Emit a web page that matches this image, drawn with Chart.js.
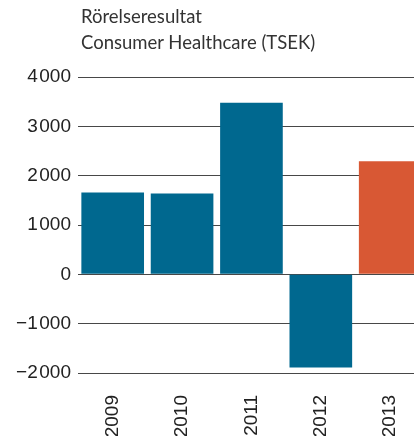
<!DOCTYPE html>
<html>
<head>
<meta charset="utf-8">
<script src="https://cdn.jsdelivr.net/npm/chart.js@4"></script>
<style>
  html, body { margin: 0; padding: 0; background: #fff; overflow: hidden; }
  #wrap { position: relative; width: 414px; height: 436px; overflow: hidden; }
  #titulo {
    position: absolute; left: 81px; top: 3px;
    font-family: Lato, "Open Sans", sans-serif; font-size: 18.5px; line-height: 26px;
    color: #333;
  }
  canvas { position: absolute; left: 0; top: 0; }
</style>
</head>
<body>
<div id="wrap">
  <canvas id="grafico" width="427" height="436"></canvas>
  <div id="titulo">Rörelseresultat<br>Consumer Healthcare (TSEK)</div>
</div>
<script>
// Datos del gráfico
const anios = ['2009', '2010', '2011', '2012', '2013'];
const resultado = [1660, 1640, 3480, -1890, 2290];
const ticksY = [-2000, -1000, 0, 1000, 2000, 3000, 4000];

// Colores
const azul = '#00688F';
const naranja = '#D85834';
const colores = anios.map(a => a === '2013' ? naranja : azul);

// Formato sueco: signo menos y espacio fino de miles
function formatoNumero(v) {
    const abs = Math.abs(v);
    let s = String(abs);
    if (abs >= 1000) s = s.slice(0, -3) + '\u200A' + s.slice(-3);
    return (v < 0 ? '\u2212' : '') + s;
}

new Chart(document.getElementById('grafico'), {
    type: 'bar',
    data: {
        labels: anios,
        datasets: [{
            data: resultado,
            backgroundColor: colores,
            borderWidth: 0,
            categoryPercentage: 1,
            barPercentage: 0.903
        }]
    },
    options: {
        responsive: false,
        animation: false,
        layout: { padding: { top: 77, right: 0, left: 0, bottom: 0 } },
        plugins: {
            legend: { display: false },
            tooltip: { enabled: false }
        },
        scales: {
            x: {
                grid: { display: false },
                border: { display: false },
                ticks: {
                    color: '#222',
                    font: { family: 'Liberation Sans', size: 19 },
                    minRotation: 90,
                    maxRotation: 90,
                    padding: 14
                },
                afterFit: scale => { scale.height = 63; }
            },
            y: {
                min: ticksY[0],
                max: ticksY[ticksY.length - 1],
                z: 1,
                afterBuildTicks: scale => { scale.ticks = ticksY.map(v => ({ value: v })); },
                grid: { color: 'rgba(0,0,0,0.72)', lineWidth: 1, drawTicks: false },
                border: { display: false },
                ticks: {
                    color: '#222',
                    font: { family: 'Liberation Sans', size: 19 },
                    padding: 7,
                    callback: v => formatoNumero(v)
                },
                afterFit: scale => { scale.width = 78; }
            }
        }
    }
});
</script>
</body>
</html>
